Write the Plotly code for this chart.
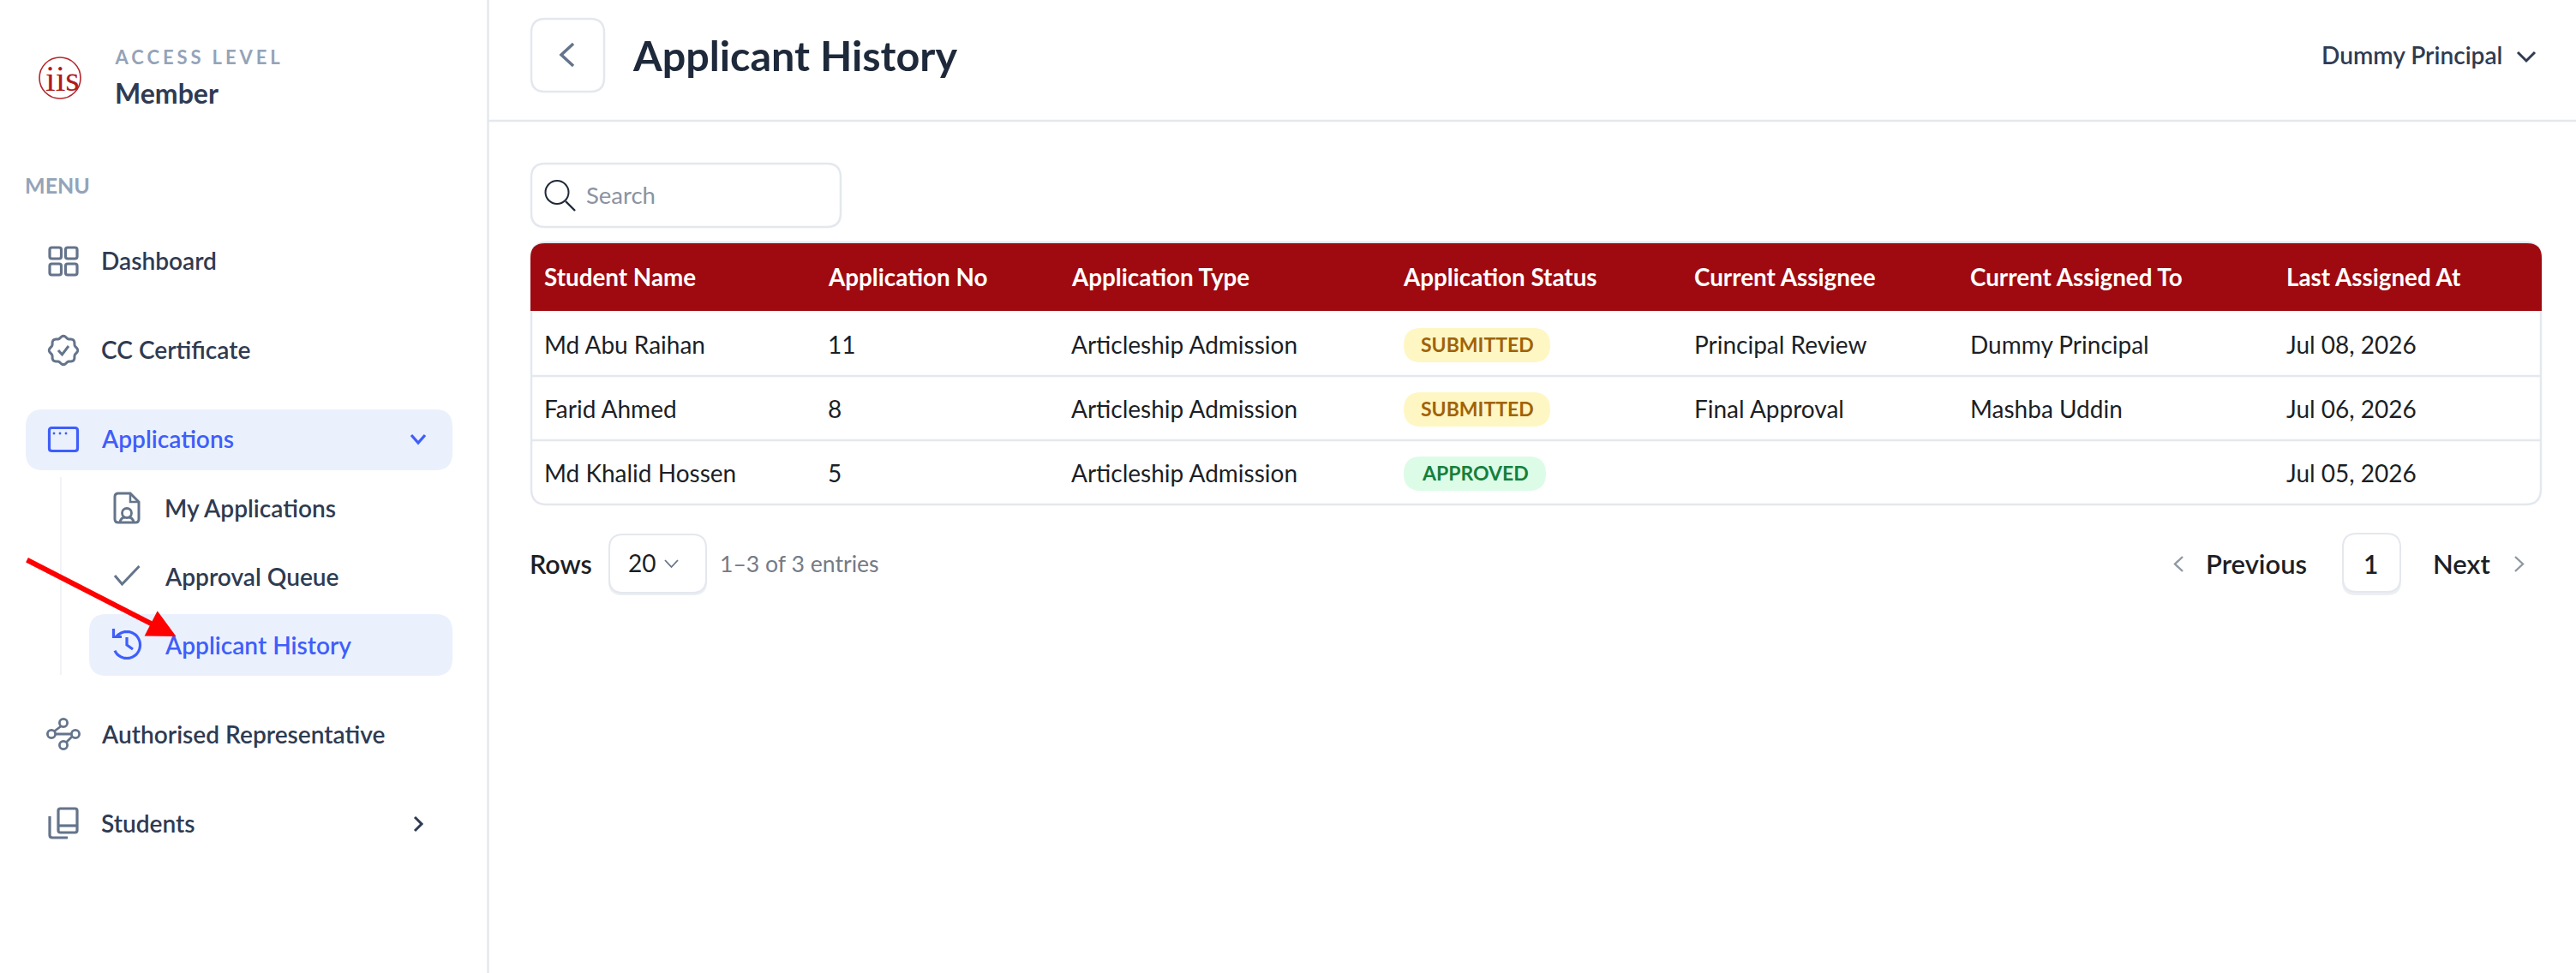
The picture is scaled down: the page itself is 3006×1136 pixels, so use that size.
import math
import plotly.graph_objects as go

# ---------- content ----------
table_headers = ["Student Name", "Application No", "Application Type", "Application Status",
                 "Current Assignee", "Current Assigned To", "Last Assigned At"]
student_names = ["Md Abu Raihan", "Farid Ahmed", "Md Khalid Hossen"]
application_nos = ["11", "8", "5"]
application_types = ["Articleship Admission", "Articleship Admission", "Articleship Admission"]
application_statuses = ["SUBMITTED", "SUBMITTED", "APPROVED"]
current_assignees = ["Principal Review", "Final Approval", ""]
current_assigned_to = ["Dummy Principal", "Mashba Uddin", ""]
last_assigned_at = ["Jul 08, 2026", "Jul 06, 2026", "Jul 05, 2026"]

# ---------- layout constants ----------
W, H = 3006, 1136
FONT = "Lato"
DARK, SLATE, GREY, BLUE = "#2f3b52", "#64748b", "#94a3b8", "#3f5efb"
LINE, BLUE_BG = "#e4e8ee", "#eaf1fd"
COL_X = [636, 967, 1251, 1638, 1978, 2300, 2669]
ROW_Y = [403, 478, 553]

shapes, annotations = [], []


def rr(x0, y0, x1, y1, r):
    return (f"M{x0+r},{y0} L{x1-r},{y0} Q{x1},{y0} {x1},{y0+r} L{x1},{y1-r} Q{x1},{y1} {x1-r},{y1} "
            f"L{x0+r},{y1} Q{x0},{y1} {x0},{y1-r} L{x0},{y0+r} Q{x0},{y0} {x0+r},{y0} Z")


def circ(cx, cy, r):
    k = 0.5523 * r
    return (f"M{cx-r},{cy} C{cx-r},{cy-k} {cx-k},{cy-r} {cx},{cy-r} C{cx+k},{cy-r} {cx+r},{cy-k} {cx+r},{cy} "
            f"C{cx+r},{cy+k} {cx+k},{cy+r} {cx},{cy+r} C{cx-k},{cy+r} {cx-r},{cy+k} {cx-r},{cy} Z")


def shape(path, fill="rgba(0,0,0,0)", line=None, lw=0):
    shapes.append(dict(type="path", path=path, xref="x", yref="y", fillcolor=fill, layer="above",
                       line=dict(color=line or "rgba(0,0,0,0)", width=lw)))


def text(x, y, s, size=28, color=DARK, weight=400, family=FONT, anchor="left"):
    annotations.append(dict(x=x - (1 if anchor == "left" else 0), y=y - 1.5, xref="x", yref="y", text=s,
                            showarrow=False, xanchor=anchor,
                            yanchor="middle", borderpad=0, borderwidth=0,
                            font=dict(family=family, size=size, color=color, weight=weight)))


# ---------- frame ----------
shape(f"M569.5,0 L569.5,{H}", line=LINE, lw=2.5)
shape(f"M570,141 L{W},141", line=LINE, lw=2.5)

# ---------- sidebar header ----------
shape(circ(70, 91, 24), line="#b4262a", lw=1.6)
text(73, 93, "iis", 42, "#b01c1c", 400, "Liberation Serif", "center")
text(232, 68, "ACCESS LEVEL", 22, GREY, 700, anchor="center")
text(135, 110, "Member", 32, DARK, 700)
text(30, 217, "MENU", 25, GREY, 700)

# ---------- navigation ----------
shape(rr(30, 478, 528, 549, 20), fill=BLUE_BG)
shape(rr(104, 717, 528, 789, 20), fill=BLUE_BG)
shape("M71,557 L71,788", line="#f1f3f6", lw=2)
NAV = 28.1
text(119, 305, "Dashboard", NAV, DARK, 600)
text(119, 409, "CC Certificate", NAV, DARK, 600)
text(119, 513, "Applications", NAV, BLUE, 600)
text(193, 594, "My Applications", NAV, DARK, 600)
text(193, 674, "Approval Queue", NAV, DARK, 600)
text(193, 754, "Applicant History", NAV, BLUE, 600)
text(119, 858, "Authorised Representative", NAV, DARK, 600)
text(119, 962, "Students", NAV, DARK, 600)

# dashboard icon
for (a, b) in [(58, 289), (76.5, 289), (58, 308), (76.5, 308)]:
    shape(rr(a, b, a + 13.5, b + 13, 2.5), line=SLATE, lw=3.2)

# certificate icon: scalloped badge
pts = []
for i in range(0, 97):
    t = 2 * math.pi * i / 96
    r = 15.5 + 1.2 * math.cos(8 * t)
    pts.append((74 + r * math.cos(t), 409 + r * math.sin(t)))
shape("M" + " L".join(f"{a:.1f},{b:.1f}" for a, b in pts) + " Z", line=SLATE, lw=3)
shape("M68,409 L72.5,414 L80,404", line=SLATE, lw=3)

# applications icon
shape(rr(57.5, 499.5, 90.5, 526.5, 3), line=BLUE, lw=3.2)
for a in (63, 70, 77):
    shape(circ(a, 506, 1.4), fill=BLUE)
shape("M480,508 L488,517 L496,508", line=BLUE, lw=3.2)

# my applications icon
shape("M152,576 L138,576 Q134,576 134,580 L134,606 Q134,610 138,610 L158,610 Q162,610 162,606 L162,586 Z",
      line=SLATE, lw=3)
shape("M152,576 L152,586 L162,586", line=SLATE, lw=2.5)
shape(circ(148, 599, 5.5), line=SLATE, lw=2.8)
shape("M140,610 Q141,604 146,604 M156,610 Q155,604 150,604", line=SLATE, lw=2.8)

# approval icon
shape("M134,672 L142.5,682 L162.5,661", line=SLATE, lw=3)

# history icon
pts = []
for i in range(0, 61):
    t = math.radians(-140 + i * 5)
    pts.append((148 + 15.5 * math.cos(t), 753 + 15.5 * math.sin(t)))
shape("M" + " L".join(f"{a:.1f},{b:.1f}" for a, b in pts[:-1]), line=BLUE, lw=3.2)
shape("M132.5,734 L132.5,743.5 L142,743.5", line=BLUE, lw=3.2)
shape("M148,744 L148,753 L155,758", line=BLUE, lw=3.2)

# authorised representative icon
for (a, b) in [(74, 844), (60, 857), (88, 857), (74, 870)]:
    shape(circ(a, b, 4.6), line=SLATE, lw=2.8)
shape("M71,848 L63,854 M65,857 L83,857 M84,860 L77,867", line=SLATE, lw=2.8)

# students icon
shape(rr(68, 944, 90, 972, 2.5), line=SLATE, lw=3.2)
shape("M68,964 L90,964", line=SLATE, lw=3.2)
shape("M58,953 L58,975 Q58,978 61,978 L79,978", line=SLATE, lw=3.2)
shape("M484,954 L492,962 L484,970", line=DARK, lw=3)

# ---------- top bar ----------
shape(rr(620, 22, 705, 107, 16), line=LINE, lw=2.5)
shape("M669,51 L655,64 L669,77", line=SLATE, lw=3.5)
text(739, 65, "Applicant History", 48.5, "#1e293b", 700)
text(2710, 65, "Dummy Principal", NAV, DARK, 600)
shape("M2938,61 L2948,71 L2958,61", line=DARK, lw=3)

# ---------- search ----------
shape(rr(620, 191, 981, 265, 16), line=LINE, lw=2.5)
shape(circ(650, 224.5, 13.5), line="#1f2937", lw=2)
shape("M660,235 L671,246", line="#1f2937", lw=2.4)
text(685, 229, "Search", 27.5, "#8b93a1", 400)

# ---------- table ----------
shape(rr(620, 283, 2965, 589, 18), fill="white", line=LINE, lw=2.5)
shape("M619,363 L619,301 Q619,284 636,284 L2949,284 Q2966,284 2966,301 L2966,363 Z", fill="#9e0a10")
for y in (439, 514):
    shape(f"M620,{y} L2965,{y}", line=LINE, lw=2.5)
for x, h in zip(COL_X, table_headers):
    text(x, 325, h, 27.8, "white", 700)
columns = [student_names, application_nos, application_types, None,
           current_assignees, current_assigned_to, last_assigned_at]
for x, col in zip(COL_X, columns):
    if col is None:
        continue
    for y, v in zip(ROW_Y, col):
        if v:
            text(x, y, v, 28, "#1c1f26", 400)
BADGE = {"SUBMITTED": ("#fef7c3", "#a16207", 171), "APPROVED": ("#dcfce7", "#15803d", 166)}
for y, s in zip(ROW_Y, application_statuses):
    bg, fg, w = BADGE[s]
    shape(rr(COL_X[3], y - 20, COL_X[3] + w, y + 20, 20), fill=bg)
    text(COL_X[3] + w / 2, y + 0.5, s, 23, fg, 700, anchor="center")

# ---------- footer ----------
text(619, 659, "Rows", 30.5, "#1c1f26", 600)
shape(rr(710, 627, 825, 695, 16), fill="#eceef2")
shape(rr(711, 624, 824, 692, 16), fill="white", line=LINE, lw=2)
text(734, 658, "20", 28, "#1c1f26", 400)
shape("M776,654 L783.5,662 L791,654", line=SLATE, lw=1.8)
text(841, 659, "1–3 of 3 entries", 26.6, "#737b88", 400)
shape("M2547,650 L2538,658.5 L2547,667", line="#8f98a3", lw=2.4)
text(2575, 659, "Previous", 31, "#1c1f26", 600)
shape(rr(2733, 626, 2802, 695, 16), fill="#eceef2")
shape(rr(2734, 623, 2801, 691, 16), fill="white", line=LINE, lw=2)
text(2766, 659, "1", 30, "#1c1f26", 600, anchor="center")
text(2840, 659, "Next", 31, "#1c1f26", 600)
shape("M2935,650 L2944,658.5 L2935,667", line="#8f98a3", lw=2.4)

# ---------- red arrow (last so that it sits over the label) ----------
annotations.append(dict(x=205.5, y=743, ax=30, ay=653, xref="x", yref="y", axref="x", ayref="y",
                        text="", showarrow=True, arrowhead=2, arrowsize=1.1, arrowwidth=6,
                        arrowcolor="#ff0000", standoff=0))

fig = go.Figure()
fig.update_layout(
    width=W, height=H, margin=dict(l=0, r=0, t=0, b=0), autosize=False,
    paper_bgcolor="white", plot_bgcolor="white", showlegend=False,
    xaxis=dict(range=[0, W], visible=False, fixedrange=True),
    yaxis=dict(range=[H, 0], visible=False, fixedrange=True),
    shapes=shapes, annotations=annotations,
)
post = """
document.body.style.margin = '0';
document.querySelectorAll('.annotation-text').forEach(function (t) {
  if (t.textContent === 'ACCESS LEVEL') { t.style.letterSpacing = '3.9px'; }
});
"""
fig.write_html("out.html", post_script=post, config={"displayModeBar": False})
